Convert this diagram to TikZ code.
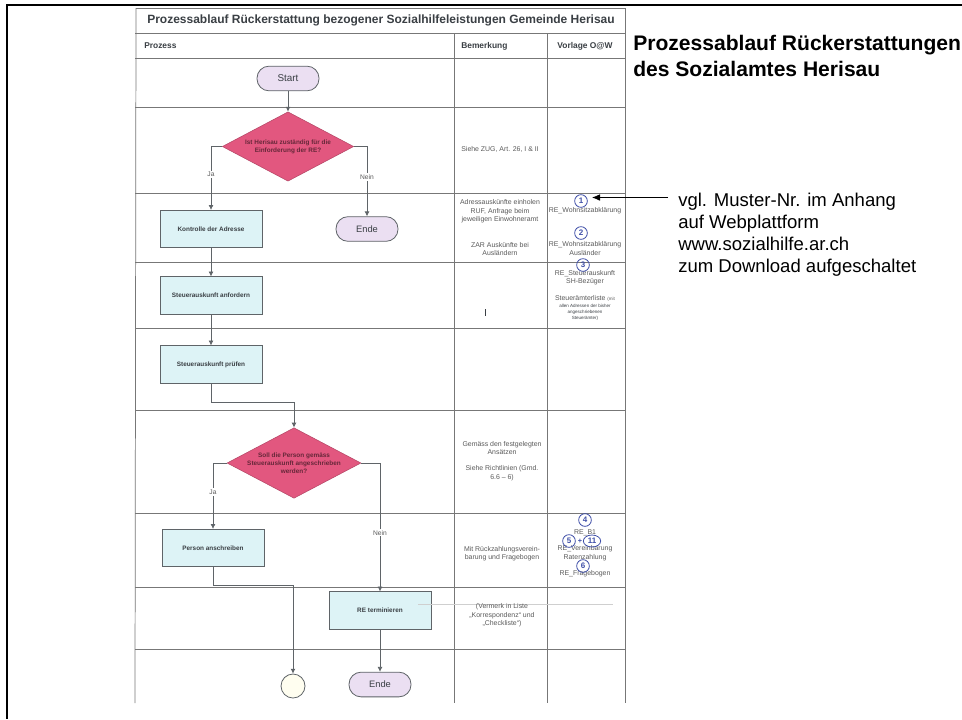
\documentclass[tikz,border=0pt]{standalone}
\usepackage{fontspec}
\setmainfont{Liberation Sans}
\usetikzlibrary{shapes.geometric,arrows.meta}
\definecolor{gridc}{HTML}{777777}
\definecolor{linec}{HTML}{5F6468}
\definecolor{boxfill}{HTML}{DDF3F6}
\definecolor{diafill}{HTML}{E2577F}
\definecolor{pillfill}{HTML}{EBDFF2}
\definecolor{inkc}{HTML}{3A3F44}
\definecolor{notec}{HTML}{5A5A5A}
\definecolor{penc}{HTML}{3F4FA8}
\tikzset{
  x=0.75pt,y=-0.75pt,
  gridline/.style={draw=gridc,line width=0.55pt},
  flow/.style={draw=linec,line width=0.5pt,-{Latex[length=3.6pt,width=3.6pt]}},
  procbox/.style={draw=linec,line width=0.6pt,fill=boxfill,minimum width=76.5pt,minimum height=28pt,inner sep=0pt,text=inkc,font=\bfseries\fontsize{4.8}{6}\selectfont},
  decide/.style={draw=diafill!80!black,line width=0.4pt,fill=diafill,diamond,aspect=1.9,minimum width=98.5pt,minimum height=52pt,inner sep=0pt,align=center,text=diafill!45!black,font=\bfseries\fontsize{4.8}{6.2}\selectfont},
  pill/.style={draw=linec,line width=0.6pt,fill=pillfill,rounded corners=9pt,minimum width=46.5pt,minimum height=18.5pt,inner sep=0pt,text=inkc},
  note/.style={align=center,text=notec,inner sep=0pt,font=\fontsize{5.2}{6.3}\selectfont},
  small/.style={align=center,text=inkc,inner sep=0pt,font=\fontsize{3.4}{4.5}\selectfont},
  jn/.style={text=notec,inner sep=0pt,font=\fontsize{5}{6}\selectfont},
  pen/.style={circle,draw=penc,line width=0.6pt,text=penc,inner sep=0pt,minimum size=9.5pt,font=\bfseries\fontsize{6}{6}\selectfont},
  side/.style={anchor=base west,inner sep=0pt,text=black,font=\fontsize{13.9}{16}\selectfont},
  sidehead/.style={anchor=base west,inner sep=0pt,text=black,font=\bfseries\fontsize{15.8}{18}\selectfont},
  headcell/.style={inner sep=0pt,text=inkc,font=\bfseries\fontsize{6.3}{7}\selectfont}
}
\begin{document}
\begin{tikzpicture}
\useasboundingbox (0,0) rectangle (962,719);
\fill[white] (0,0) rectangle (962,719);
% outer frame
\draw[black,line width=1.6pt] (962,5) -- (7,5) -- (7,719);
% scanned sheet grid
\draw[gridline] (136,8) -- (625,8);
\draw[gridline] (625,8) -- (625,703);
\draw[gridline] (136,8) -- (135,703);
\foreach \yy in {33,58,107,193,262,328,410,513,587,649}{\draw[gridline] (135,\yy) -- (625,\yy);}
\draw[gridline] (454,33) -- (454,703);
\draw[gridline] (547,33) -- (547,703);
% sheet head
\node[inner sep=0pt,text=inkc,font=\bfseries\fontsize{9}{10}\selectfont] (title) at (381,20.5) {Prozessablauf Rückerstattung bezogener Sozialhilfeleistungen Gemeinde Herisau};
\node[headcell,anchor=west] (hproc) at (144,46) {Prozess};
\node[headcell,anchor=west] (hbem) at (461,46) {Bemerkung};
\node[headcell] (hvor) at (585,46) {Vorlage O@W};
% flow nodes
\node[pill,font=\fontsize{7.4}{9}\selectfont] (start) at (288,78.5) {Start};
\node[decide] (d1) at (288,146.5) {Ist Herisau zuständig für die\\Einforderung der RE?};
\node[procbox] (kontrolle) at (211,229) {Kontrolle der Adresse};
\node[pill,font=\fontsize{7}{9}\selectfont] (ende1) at (367,229) {Ende};
\node[procbox] (anfordern) at (211,295.5) {Steuerauskunft anfordern};
\node[procbox] (pruefen) at (211,364.5) {Steuerauskunft prüfen};
\node[decide] (d2) at (294,463) {Soll die Person gemäss\\Steuerauskunft angeschrieben\\werden?};
\node[procbox] (person) at (213,548) {Person anschreiben};
\node[procbox] (termin) at (380,610.5) {RE terminieren};
\node[pill,font=\fontsize{7}{9}\selectfont] (ende2) at (380,684.5) {Ende};
\node[circle,draw=linec,line width=0.6pt,fill=yellow!6,minimum size=18pt,inner sep=0pt] (conn) at (293,686) {};
% connectors
\draw[flow] (start) -- (d1);
\draw[flow] (d1.west) -| (kontrolle.north) node[jn,pos=0.72,fill=white,inner ysep=1pt] {Ja};
\draw[flow] (d1.east) -| (ende1.north) node[jn,pos=0.72,fill=white,inner ysep=1pt] {Nein};
\draw[flow] (kontrolle) -- (anfordern);
\draw[flow] (anfordern) -- (pruefen);
\coordinate (elbowA) at (294,402);
\draw[flow] (pruefen.south) |- (elbowA) -- (d2.north);
\draw[flow] (d2.west) -| (person.north) node[jn,pos=0.72,fill=white,inner ysep=1pt] {Ja};
\draw[flow] (d2.east) -| (termin.north) node[jn,pos=0.771,fill=white,inner ysep=1pt] {Nein};
\coordinate (elbowB) at (293,585);
\draw[flow] (person.south) |- (elbowB) -- (conn.north);
\draw[flow] (termin) -- (ende2);
% faint scan line beside RE terminieren
\coordinate (faintA) at (418,604);
\coordinate (faintB) at (613,604);
\draw[gridc!35,line width=0.35pt] (faintA) -- (faintB);
% remarks
\node[note] (b1) at (500,149.5) {Siehe ZUG, Art. 26, I \& II};
\node[note] (b2) at (500,211.5) {Adressauskünfte einholen\\RUF, Anfrage beim\\jeweiligen Einwohneramt};
\node[note] (b3) at (500,249) {ZAR Auskünfte bei\\Ausländern};
\node[note] (b4) at (502,448) {Gemäss den festgelegten\\Ansätzen};
\node[note] (b5) at (502,473) {Siehe Richtlinien (Gmd.\\6.6 – 6)};
\node[note] (b6) at (502,553.5) {Mit Rückzahlungsverein-\\barung und Fragebogen};
\node[note] (b7) at (502,615.5) {(Vermerk in Liste\\„Korrespondenz“ und\\„Checkliste“)};
\coordinate (speckA) at (485,309);
\coordinate (speckB) at (485,316);
\draw[inkc,line width=0.7pt] (speckA) -- (speckB);
% templates
\node[note] (v1) at (585,211) {RE\_Wohnsitzabklärung};
\node[note] (v2) at (585,248.5) {RE\_Wohnsitzabklärung\\Ausländer};
\node[note] (v3) at (585,277.5) {RE\_Steuerauskunft\\SH-Bezüger};
\node[note] (v4) at (585,298) {Steuerämterliste {\fontsize{3.4}{4.5}\selectfont (mit}};
\node[small] (v5) at (585,312) {allen Adressen der bisher\\angeschriebenen\\Steuerämter)};
\node[note] (v6) at (585,533) {RE\_B1};
\node[note] (v7) at (585,553) {RE\_Vereinbarung\\Ratenzahlung};
\node[note] (v8) at (585,574) {RE\_Fragebogen};
% pen marks
\node[pen] (p1) at (581,201) {1};
\node[pen] (p2) at (581,233) {2};
\node[pen] (p3) at (583,265) {3};
\node[pen] (p4) at (585,520) {4};
\node[pen] (p5) at (569,541) {5};
\node[inner sep=0pt,text=penc,font=\bfseries\fontsize{5.5}{6}\selectfont] (pplus) at (580,541) {+};
\node[pen,ellipse,minimum width=13pt,minimum height=9pt] (p11) at (592,541) {11};
\node[pen] (p6) at (583,566) {6};
% right-hand text
\node[sidehead] (sh1) at (633,50) {Prozessablauf Rückerstattungen};
\node[sidehead] (sh2) at (633,76) {des Sozialamtes Herisau};
\node[side] (s1) at (678,206) {vgl. Muster-Nr. im Anhang};
\node[side] (s2) at (678,228) {auf Webplattform};
\node[side] (s3) at (678,250) {www.sozialhilfe.ar.ch};
\node[side] (s4) at (678,272) {zum Download aufgeschaltet};
\coordinate (armA) at (668,197.5);
\coordinate (armB) at (592,197.5);
\draw[black,line width=0.6pt,-{Latex[length=6pt,width=5pt]}] (armA) -- (armB);
\end{tikzpicture}
\end{document}
